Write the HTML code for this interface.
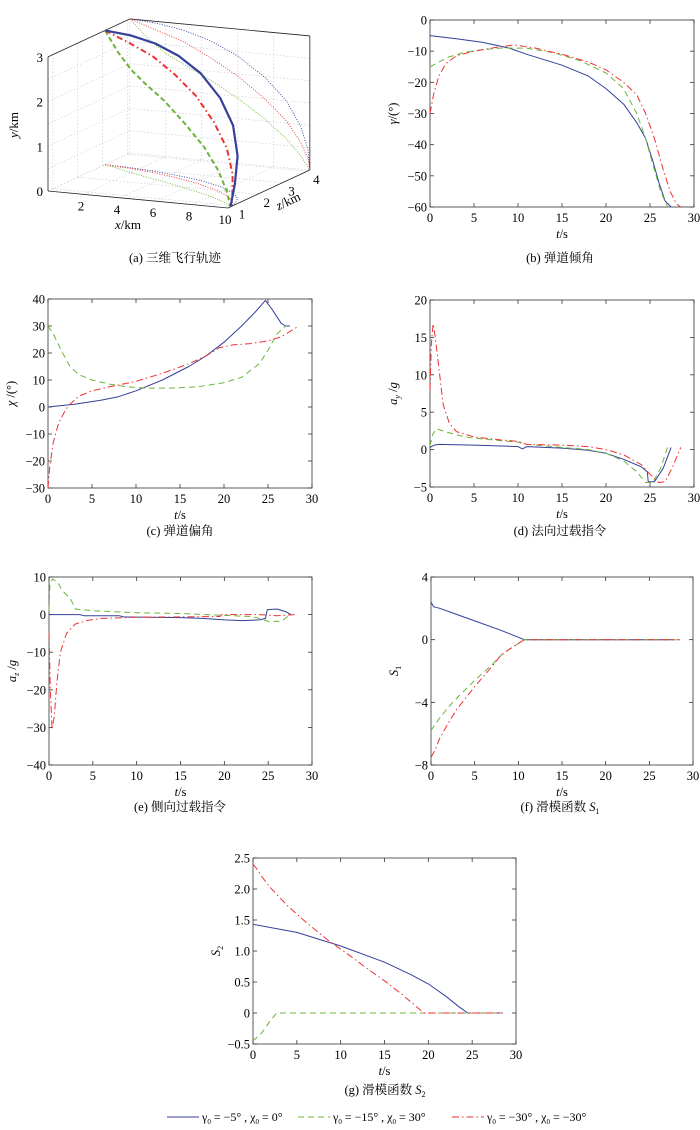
<!DOCTYPE html>
<html><head><meta charset="utf-8">
<style>
body{margin:0;background:#fff;}
svg{display:block;font-family:"Liberation Serif","Noto Serif CJK SC",serif;}
</style></head>
<body>
<svg id="fig" width="700" height="1130" viewBox="0 0 700 1130"></svg>
<script>
// ---- data ----
const tTicks=[0,5,10,15,20,25,30];
const bTicks=[0,-10,-20,-30,-40,-50,-60];
const cTicks=[40,30,20,10,0,-10,-20,-30];
const dTicks=[20,15,10,5,0,-5];
const eTicks=[10,0,-10,-20,-30,-40];
const fTicks=[4,0,-4,-8];
const gTicks=[2.5,2,1.5,1,0.5,0,-0.5];
const gTickLabels=["2.5","2.0","1.5","1.0","0.5","0","−0.5"];
const bBlue=[[0,-5],[3,-6],[6,-7.2],[9,-9],[11,-11],[15,-14.5],[18,-18],[20,-22],[22,-27],[23.5,-33],[24.5,-38],[25.3,-45],[26,-52],[26.7,-58],[27.4,-60]];
const bGreen=[[0,-15],[2,-12],[4,-10.3],[6,-9.5],[8,-9],[11,-9],[14,-10.5],[17,-13],[20,-17],[22,-22],[23.5,-30],[24.5,-38],[25.3,-46],[26.2,-55],[27,-60]];
const bRed=[[0,-30],[0.4,-24],[1,-18],[1.8,-14],[3,-11.5],[5,-10],[7,-9],[9.5,-8],[12,-9],[15,-11],[18,-13.5],[20,-16],[22,-20],[23.5,-24],[24.5,-30],[25.5,-38],[26.5,-48],[27.3,-55],[28,-59],[28.5,-60]];
const cBlue=[[0,0],[3,1],[6,2.5],[8,3.8],[10,6],[13,10],[16,15],[18,19],[20,24],[22,30],[23.5,35],[24.7,39.5],[25.5,36],[26.5,31],[27,30],[27.5,30]];
const cGreen=[[0,30],[0.6,27],[1.5,21],[2.5,15],[3.5,12],[5,10],[7,8.5],[9,7.5],[11,7],[14,7],[17,7.5],[20,9],[22,11],[24,16],[25,21],[26,27],[27,30]];
const cRed=[[0,-30],[0.2,-22],[0.6,-13],[1.2,-6],[2,-1],[2.5,1],[3.5,4],[5,6],[7,7.5],[10,9.5],[13,12.5],[16,16],[18,19],[19.5,22],[21,23],[23,23.5],[25,24.5],[26.5,26],[28.5,30]];
const dBlue=[[0,0.3],[0.5,0.6],[1,0.7],[5,0.6],[10,0.4],[10.5,0.1],[11,0.4],[15,0.2],[18,-0.1],[20,-0.5],[22,-1.3],[24,-2.3],[24.7,-3],[24.8,-4.3],[25.5,-4.3],[26.5,-2.5],[27.4,0.3]];
const dGreen=[[0,0.5],[0.3,2],[0.7,2.8],[2,2.3],[4,1.7],[6,1.4],[10,1],[11,0.7],[15,0.3],[18,0],[20,-0.5],[22,-1.5],[23.5,-3],[24.5,-4.4],[25.3,-4.4],[26.2,-2.5],[27,0.3]];
const dRed=[[0,8],[0.15,14],[0.35,16.8],[0.6,15],[1,11],[1.5,6],[2.2,3.5],[3,2.4],[5,1.7],[8,1.3],[10,1.1],[11,0.7],[15,0.6],[18,0.4],[20,0],[22,-0.7],[24,-2],[25,-3.3],[26,-4.4],[26.7,-4.3],[27.5,-2.5],[28.5,0.3]];
const eBlue=[[0,0],[3.5,0],[4,-0.3],[8,-0.3],[8.5,-0.6],[15,-0.8],[17.5,-1],[20,-1.4],[22,-1.6],[24,-1.4],[24.7,-1],[24.9,1.3],[26,1.5],[27,0.8],[27.6,0]];
const eGreen=[[0,1],[0.1,8],[0.4,9.5],[1,8.5],[1.5,6.5],[2.5,4],[3,1.5],[5,1],[10,0.5],[15,0.3],[20,-0.2],[23,-0.5],[24,-1],[25,-1.8],[26.5,-1.8],[27.5,0]];
const eRed=[[0,-5],[0.15,-20],[0.35,-30.5],[0.6,-27],[0.9,-18],[1.3,-10],[2,-5],[3,-2.5],[4.5,-1.5],[6,-1],[10,-0.7],[15,-0.6],[19.5,-0.5],[19.7,0],[24,0],[26,-0.3],[28,0]];
const fBlue=[[0,2.4],[0.3,2.1],[1,2],[3,1.6],[5,1.2],[8,0.6],[10.7,0],[28,0]];
const fGreen=[[0,-5.8],[1,-5],[2,-4.3],[3,-3.7],[5,-2.6],[7,-1.6],[8,-1],[9,-0.6],[10.7,0],[28,0]];
const fRed=[[0,-7.5],[0.5,-7],[1,-6.3],[2,-5.3],[3,-4.4],[5,-3],[7,-1.7],[8,-1],[9,-0.6],[10.7,0],[28.5,0]];
const gBlue=[[0,1.43],[5,1.3],[10,1.08],[15,0.82],[18,0.62],[20,0.47],[22,0.27],[23.5,0.1],[24.5,0],[28.5,0]];
const gGreen=[[0,-0.45],[1,-0.32],[2,-0.12],[2.7,0],[28.5,0]];
const gRed=[[0,2.4],[0.3,2.35],[1,2.2],[2,2.02],[4,1.72],[6,1.47],[8.5,1.18],[11,0.93],[13,0.72],[15,0.52],[17,0.3],[18.5,0.12],[19.5,0],[28.5,0]];
// 3D trajectories [x,y,z]
const tr3Blue=[[0,3,3.1],[1.5,2.96,3.05],[3,2.86,2.95],[4.5,2.68,2.8],[6,2.4,2.6],[7.5,1.98,2.3],[8.7,1.5,1.95],[9.5,0.95,1.55],[9.9,0.45,1.15],[10,0,0.9]];
const tr3Green=[[0,3,3.1],[1,2.6,2.9],[2,2.3,2.7],[3,2.1,2.5],[4.5,1.8,2.25],[6,1.45,1.95],[7.5,1.05,1.65],[8.7,0.65,1.35],[9.5,0.3,1.1],[10,0,0.9]];
const tr3Red=[[0,3,3.1],[1.5,2.8,3.0],[3,2.6,2.85],[4.5,2.3,2.65],[6,1.95,2.4],[7.5,1.5,2.05],[8.7,1.05,1.7],[9.5,0.6,1.35],[9.9,0.25,1.05],[10,0,0.9]];

const NS="http://www.w3.org/2000/svg";
const svg=document.getElementById('fig');
function el(tag,attrs,parent){const e=document.createElementNS(NS,tag);for(const k in attrs)e.setAttribute(k,attrs[k]);(parent||svg).appendChild(e);return e;}
const COL={blue:"#34409a",green:"#6ab53a",red:"#ee3034"};
const DASH={blue:"",green:"6,4",red:"7,3,1.5,3"};
const fmt=v=>String(v).replace('-','−');

function plot(name,L,T,R,B,xmin,xmax,ymin,ymax,yTicks,yLabels,ylab,series){
  const g=el('g',{});
  
  
  const sx=v=>L+(v-xmin)/(xmax-xmin)*(R-L);
  const sy=v=>B-(v-ymin)/(ymax-ymin)*(B-T);
  const box=el('rect',{x:L,y:T,width:R-L,height:B-T,fill:'none',stroke:'#333','stroke-width':0.8},g);
  
  
  tTicks.forEach(v=>{
    const x=sx(v);
    el('line',{x1:x,y1:B,x2:x,y2:B-4,stroke:'#333','stroke-width':0.8},g);
    el('line',{x1:x,y1:T,x2:x,y2:T+4,stroke:'#333','stroke-width':0.8},g);
    const t=el('text',{x:x,y:B+15,'font-size':12.5,'text-anchor':'middle'},g);t.textContent=v;
    
    
  });
  yTicks.forEach((v,i)=>{
    const y=sy(v);
    el('line',{x1:L,y1:y,x2:L+4,y2:y,stroke:'#333','stroke-width':0.8},g);
    el('line',{x1:R,y1:y,x2:R-4,y2:y,stroke:'#333','stroke-width':0.8},g);
    const t=el('text',{x:L-3,y:y+4.5,'font-size':12.5,'text-anchor':'end'},g);t.textContent=yLabels?yLabels[i]:fmt(v);
    
    
  });
  const xl=el('text',{x:(L+R)/2,y:B+31,'font-size':12.5,'text-anchor':'middle'},g);xl.innerHTML='<tspan font-style="italic">t</tspan>/s';
  
  
  const yl=el('text',{x:0,y:0,'font-size':12.5,'text-anchor':'middle',transform:`translate(${L-33},${(T+B)/2}) rotate(-90)`},g);yl.innerHTML=ylab;
  
  
  series.forEach(([c,d])=>{
    const p=el('polyline',{points:d.map(q=>sx(q[0]).toFixed(1)+','+sy(q[1]).toFixed(1)).join(' '),fill:'none',stroke:COL[c],'stroke-width':1,'stroke-dasharray':DASH[c],'stroke-linejoin':'round'},g);
    
    
  });
}
function caption(x,y,txt,name){const t=el('text',{x:x,y:y,'font-size':12.5,'text-anchor':'middle'});t.innerHTML=txt;
  
  }

plot('plot-b',430,20,694,207,0,30,-60,0,bTicks,null,'<tspan font-style="italic">γ</tspan>/(°)',[['blue',bBlue],['green',bGreen],['red',bRed]]);
plot('plot-c',48,299,312,488,0,30,-30,40,cTicks,null,'<tspan font-style="italic">χ</tspan> /(°)',[['blue',cBlue],['green',cGreen],['red',cRed]]);
plot('plot-d',430,300,694,487,0,30,-5,20,dTicks,null,'<tspan font-style="italic">a</tspan><tspan font-size="8" dy="3" font-style="italic">y</tspan><tspan dy="-3"> /</tspan><tspan font-style="italic">g</tspan>',[['blue',dBlue],['green',dGreen],['red',dRed]]);
plot('plot-e',49,577,312,765,0,30,-40,10,eTicks,null,'<tspan font-style="italic">a</tspan><tspan font-size="8" dy="3" font-style="italic">z</tspan><tspan dy="-3"> /</tspan><tspan font-style="italic">g</tspan>',[['blue',eBlue],['green',eGreen],['red',eRed]]);
plot('plot-f',431,577,693,765,0,30,-8,4,fTicks,null,'<tspan font-style="italic">S</tspan><tspan font-size="8" dy="3">1</tspan>',[['blue',fBlue],['green',fGreen],['red',fRed]]);
plot('plot-g',253,858,516,1044,0,30,-0.5,2.5,gTicks,gTickLabels,'<tspan font-style="italic">S</tspan><tspan font-size="8" dy="3">2</tspan>',[['blue',gBlue],['green',gGreen],['red',gRed]]);

caption(175,262,'(a) 三维飞行轨迹','caption-a');
caption(560,262,'(b) 弹道倾角','caption-b');
caption(180,535,'(c) 弹道偏角','caption-c');
caption(560,535,'(d) 法向过载指令','caption-d');
caption(180,811,'(e) 侧向过载指令','caption-e');
caption(560,811,'(f) 滑模函数 <tspan font-style="italic">S</tspan><tspan font-size="8" dy="3">1</tspan>','caption-f');
caption(385,1094,'(g) 滑模函数 <tspan font-style="italic">S</tspan><tspan font-size="8" dy="3">2</tspan>','caption-g');

// ---- 3D plot ----
(function(){
  const g=el('g',{});
  
  
  const O=[48,191],ex=[18,1.7],ez=[24.8,-11.5],ey=[0,-44.7],z0=0.8,zM=4.1,xM=10,yM=3;
  const P=(x,y,z)=>[O[0]+x*ex[0]+(z-z0)*ez[0],O[1]+x*ex[1]+(z-z0)*ez[1]+y*ey[1]];
  const ln=(a,b,st,dash,w)=>el('line',{x1:a[0],y1:a[1],x2:b[0],y2:b[1],stroke:st,'stroke-width':w||0.8,'stroke-dasharray':dash||''},g);
  const grid='#bbb',gd='1.5,2';
  for(let y=0;y<=yM;y+=0.5){ln(P(0,y,z0),P(0,y,zM),grid,gd,0.5);ln(P(0,y,zM),P(xM,y,zM),grid,gd,0.5);}
  for(let x=0;x<=10;x+=2){ln(P(x,0,z0),P(x,0,zM),grid,gd,0.5);ln(P(x,0,zM),P(x,yM,zM),grid,gd,0.5);}
  for(let z=1;z<=4;z+=1){ln(P(0,0,z),P(xM,0,z),grid,gd,0.5);ln(P(0,0,z),P(0,yM,z),grid,gd,0.5);}
  ln(P(0,0,z0),P(xM,0,z0),'#222');ln(P(xM,0,z0),P(xM,0,zM),'#222');
  ln(P(0,0,z0),P(0,yM,z0),'#222');ln(P(0,yM,z0),P(0,yM,zM),'#222');
  ln(P(0,yM,zM),P(xM,yM,zM),'#222');ln(P(xM,yM,zM),P(xM,0,zM),'#222');
  const tx=(x,y,s,anc,name)=>{const t=el('text',{x:x,y:y,'font-size':13,'text-anchor':anc||'middle'},g);t.innerHTML=s;
    
    };
  [0,1,2,3].forEach(v=>{const p=P(0,v,z0);tx(p[0]-5,p[1]+5,v,'end','y-tick-label');});
  [2,4,6,8,10].forEach(v=>{const p=P(v,0,z0);tx(p[0]-3,p[1]+16,v,'middle','x-tick-label');});
  [1,2,3,4].forEach(v=>{const p=P(xM,0,v);tx(p[0]+9,p[1]+13,v,'middle','z-tick-label');});
  tx(128,229,'<tspan font-style="italic">x</tspan>/km','middle','x-axis-title');
  const zt=el('text',{x:0,y:0,'font-size':13,'text-anchor':'middle',transform:'translate(290,205) rotate(-25)'},g);
  zt.innerHTML='<tspan font-style="italic">z</tspan>/km';
  
  
  const yt=el('text',{x:0,y:0,'font-size':13,'text-anchor':'middle',transform:'translate(18,125) rotate(-90)'},g);
  yt.innerHTML='<tspan font-style="italic">y</tspan>/km';
  
  
  const curve=(d,c,dash,w,proj)=>{
    const pts=d.map(q=>{const r=proj?proj(q):q;return P(r[0],r[1],r[2]).map(v=>v.toFixed(1)).join(',');}).join(' ');
    const p=el('polyline',{points:pts,fill:'none',stroke:COL[c],'stroke-width':w,'stroke-dasharray':dash,'stroke-linejoin':'round'},g);
    
    
  };
  [['blue',tr3Blue],['green',tr3Green],['red',tr3Red]].forEach(([c,d])=>{
    curve(d,c,'1,1.5',0.9,q=>[q[0],q[1],zM]);
    curve(d,c,'1,1.5',0.9,q=>[q[0],0,q[2]]);
  });
  curve(tr3Green,'green','5,3',2);
  curve(tr3Red,'red','6,3,1.5,3',2);
  curve(tr3Blue,'blue','',2.2);
})();

// ---- legend ----
(function(){
  const g=el('g',{});
  
  
  const items=[['blue',167,'γ<tspan font-size="7" dy="3">0</tspan><tspan dy="-3"> = −5° , χ</tspan><tspan font-size="7" dy="3">0</tspan><tspan dy="-3"> = 0°</tspan>'],
    ['green',298,'γ<tspan font-size="7" dy="3">0</tspan><tspan dy="-3"> = −15° , χ</tspan><tspan font-size="7" dy="3">0</tspan><tspan dy="-3"> = 30°</tspan>'],
    ['red',452,'γ<tspan font-size="7" dy="3">0</tspan><tspan dy="-3"> = −30° , χ</tspan><tspan font-size="7" dy="3">0</tspan><tspan dy="-3"> = −30°</tspan>']];
  items.forEach(([c,x,s])=>{
    const e=el('g',{},g);
    
    
    el('line',{x1:x,y1:1117,x2:x+32,y2:1117,stroke:COL[c],'stroke-width':1,'stroke-dasharray':DASH[c]},e);
    const t=el('text',{x:x+35,y:1121,'font-size':12},e);t.innerHTML=s;
  });
})();
</script>
</body></html>
